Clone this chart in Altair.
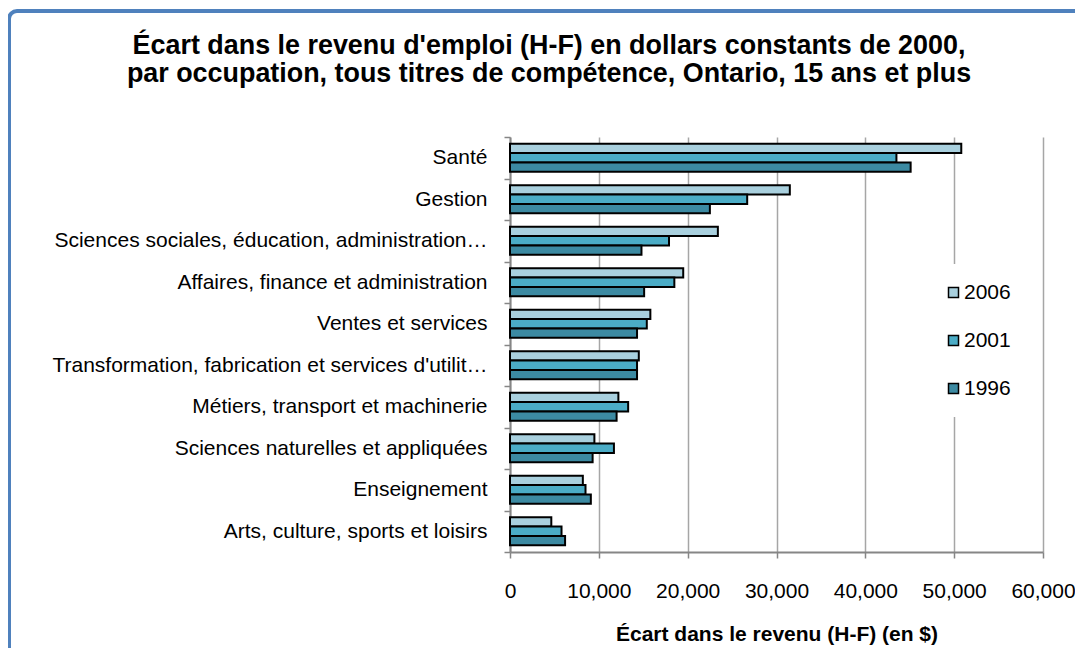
import altair as alt
import pandas as pd

occupations = [
    "Santé",
    "Gestion",
    "Sciences sociales, éducation, administration publique et religion",
    "Affaires, finance et administration",
    "Ventes et services",
    "Transformation, fabrication et services d'utilité publique",
    "Métiers, transport et machinerie",
    "Sciences naturelles et appliquées",
    "Enseignement",
    "Arts, culture, sports et loisirs",
]
years = ["2006", "2001", "1996"]
v2006 = [50800, 31500, 23400, 19500, 15800, 14500, 12200, 9500, 8200, 4650]
v2001 = [43500, 26700, 17900, 18500, 15400, 14300, 13300, 11700, 8500, 5800]
v1996 = [45100, 22500, 14800, 15100, 14300, 14300, 12000, 9300, 9100, 6200]
colors = ["#A9D0DE", "#4BACC6", "#3C8AA2"]
x_ticks = [0, 10000, 20000, 30000, 40000, 50000, 60000]

title_line1 = "Écart dans le revenu d'emploi (H-F) en dollars constants de 2000,"
title_line2 = "par occupation, tous titres de compétence, Ontario, 15 ans et plus"
x_title = "Écart dans le revenu (H-F) (en $)"

rows = []
for yr, vals in zip(years, [v2006, v2001, v1996]):
    for occ, v in zip(occupations, vals):
        rows.append({"Occupation": occ, "Année": yr, "Valeur": v})
df = pd.DataFrame(rows)

FONT = "Liberation Sans"
FS = 21
TFS = 26.9

bars = alt.Chart(df).mark_bar(stroke="black", strokeWidth=2).encode(
    x=alt.X(
        "Valeur:Q",
        scale=alt.Scale(domain=[0, 60000], nice=False),
        axis=alt.Axis(
            values=x_ticks, format=",d", title=x_title, labelFlush=False,
            grid=True, gridColor="#A6A6A6", gridWidth=1.5,
            domainColor="#868686", domainWidth=2,
            tickColor="#868686", tickWidth=1.5, tickSize=6,
            labelFont=FONT, labelFontSize=FS, labelColor="black", labelPadding=22,
            titleFont=FONT, titleFontSize=FS, titleFontWeight="bold", titleColor="black",
            titlePadding=22,
        ),
    ),
    y=alt.Y(
        "Occupation:N", sort=occupations,
        scale=alt.Scale(paddingInner=0, paddingOuter=0),
        axis=alt.Axis(
            title=None, tickBand="extent", grid=False,
            domainColor="#868686", domainWidth=2,
            tickColor="#868686", tickWidth=1.5, tickSize=6,
            labelFont=FONT, labelFontSize=FS, labelColor="black",
            labelPadding=17, labelLimit=436,
        ),
    ),
    yOffset=alt.YOffset("Année:N", sort=years,
                        scale=alt.Scale(paddingInner=0, paddingOuter=0.72)),
    color=alt.Color(
        "Année:N", sort=years,
        scale=alt.Scale(domain=years, range=colors),
        legend=alt.Legend(
            title=None, orient="none", legendX=415, legendY=127,
            fillColor="white", padding=18, rowPadding=26,
            symbolType="square", symbolSize=100,
            symbolStrokeColor="black", symbolStrokeWidth=1.5,
            labelFont=FONT, labelFontSize=FS, labelColor="black", labelOffset=0,
        ),
    ),
)

frame = alt.Chart(pd.DataFrame({"a": [0]})).mark_rect(
    filled=False, stroke="#4F81BD", strokeWidth=4, cornerRadius=8
).encode(
    x=alt.value(-501), x2=alt.value(600), y=alt.value(-126), y2=alt.value(560)
)

title1 = alt.Chart(pd.DataFrame({"t": [title_line1]})).mark_text(
    font=FONT, fontSize=TFS, fontWeight="bold", color="black",
    align="center", baseline="middle"
).encode(text="t:N", x=alt.value(39), y=alt.value(-91))
title2 = alt.Chart(pd.DataFrame({"t": [title_line2]})).mark_text(
    font=FONT, fontSize=TFS, fontWeight="bold", color="black",
    align="center", baseline="middle"
).encode(text="t:N", x=alt.value(39), y=alt.value(-63))

chart = alt.layer(bars, frame, title1, title2).properties(
    width=533, height=415,
    autosize=alt.AutoSizeParams(type="none"),
    padding={"left": 502, "top": 129, "right": 32, "bottom": 96},
    background="white",
).configure_view(stroke=None)

chart.save("out.html", embed_options={"renderer": "svg", "actions": False})
